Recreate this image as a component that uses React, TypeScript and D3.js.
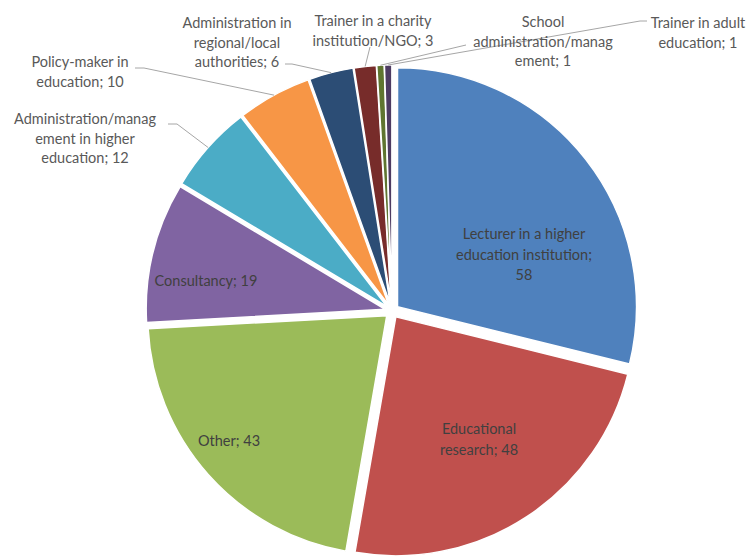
import React from "react";
import * as d3 from "d3";

const categories = [
  "Lecturer in a higher education institution",
  "Educational research",
  "Other",
  "Consultancy",
  "Administration/management in higher education",
  "Policy-maker in education",
  "Administration in regional/local authorities",
  "Trainer in a charity institution/NGO",
  "School administration/management",
  "Trainer in adult education",
];
const values = [58, 48, 43, 19, 12, 10, 6, 3, 1, 1];
const colors = [
  "#4F81BD", "#C0504D", "#9BBB59", "#8064A2", "#4BACC6",
  "#F79646", "#2C4D75", "#772C2A", "#5F7530", "#4D3B62",
];
// label text lines, as wrapped in the chart
const labelLines = [
  ["Lecturer in a higher", "education institution;", "58"],
  ["Educational", "research; 48"],
  ["Other; 43"],
  ["Consultancy; 19"],
  ["Administration/manag", "ement in higher", "education; 12"],
  ["Policy-maker in", "education; 10"],
  ["Administration in", "regional/local", "authorities; 6"],
  ["Trainer in a charity", "institution/NGO; 3"],
  ["School", "administration/manag", "ement; 1"],
  ["Trainer in adult", "education; 1"],
];

const W = 752, H = 556;
const cx = 392, cy = 311, R = 239, EXPLODE = 7;

// label layout: center x, first line y, inside flag, leader start points
const labelLayout: { x: number; y: number; inside: boolean; leader?: [number, number][] }[] = [
  { x: 524, y: 233, inside: true },
  { x: 479, y: 428, inside: true },
  { x: 229, y: 440, inside: true },
  { x: 206, y: 280, inside: true },
  { x: 85, y: 118, inside: false, leader: [[168, 124], [177, 124]] },
  { x: 80, y: 61, inside: false, leader: [[135, 68], [144, 68]] },
  { x: 237, y: 22, inside: false, leader: [[285, 64], [292, 64]] },
  { x: 373, y: 20, inside: false, leader: [[370, 47]] },
  { x: 543, y: 21, inside: false, leader: [[466, 45]] },
  { x: 698, y: 22, inside: false, leader: [[647, 21], [640, 21]] },
];

export default function App() {
  const pie = d3.pie<number>().sort(null).value((d) => d).startAngle(0).endAngle(2 * Math.PI);
  const arcs = pie(values);
  const arcGen = d3.arc<d3.PieArcDatum<number>>().innerRadius(0).outerRadius(R);
  const font = "Lato, 'Open Sans', sans-serif";

  return (
    <svg width={W} height={H} style={{ position: "absolute", left: 0, top: 0, background: "#fff" }}>
      <g>
        {arcs.map((a, i) => {
          const mid = (a.startAngle + a.endAngle) / 2;
          const ox = cx + EXPLODE * Math.sin(mid);
          const oy = cy - EXPLODE * Math.cos(mid);
          return (
            <path
              key={i}
              d={arcGen(a) || ""}
              transform={`translate(${ox},${oy})`}
              fill={colors[i]}
              stroke="#fff"
              strokeWidth={1.5}
            />
          );
        })}
      </g>
      <g>
        {arcs.map((a, i) => {
          const L = labelLayout[i];
          if (!L.leader) return null;
          const mid = (a.startAngle + a.endAngle) / 2;
          const ex = cx + (R + EXPLODE) * Math.sin(mid);
          const ey = cy - (R + EXPLODE) * Math.cos(mid);
          const pts = [...L.leader, [ex, ey]];
          const line = d3.line()(pts as [number, number][]);
          return <path key={i} d={line || ""} fill="none" stroke="#a6a6a6" strokeWidth={1} />;
        })}
      </g>
      <g fontFamily={font} fontSize={14.5}>
        {labelLines.map((lines, i) => {
          const L = labelLayout[i];
          const lh = L.inside ? 20.5 : 19.5;
          return (
            <text
              key={i}
              textAnchor="middle"
              fill={L.inside ? "#404040" : "#595959"}
              dominantBaseline="central"
            >
              {lines.map((t, j) => (
                <tspan key={j} x={L.x} y={L.y + j * lh}>
                  {t}
                </tspan>
              ))}
            </text>
          );
        })}
      </g>
    </svg>
  );
}
